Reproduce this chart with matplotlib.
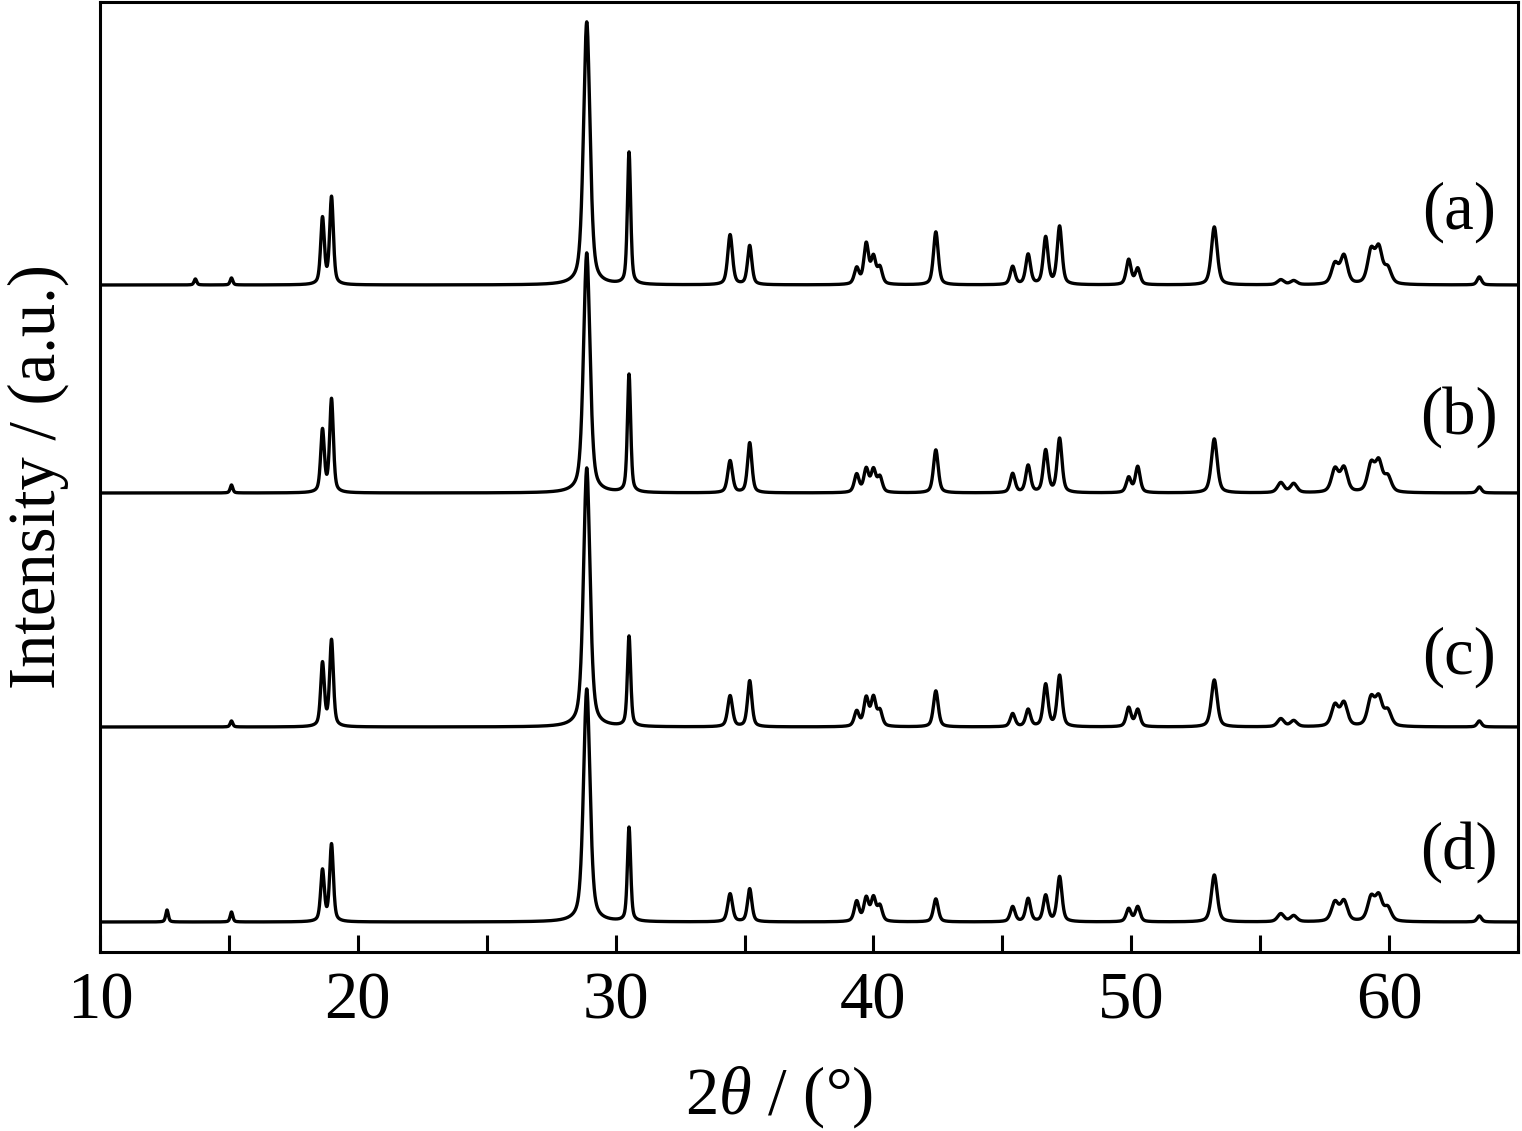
import numpy as np
import matplotlib
matplotlib.use("Agg")
import matplotlib.pyplot as plt
from matplotlib.ticker import MultipleLocator

plt.rcParams['font.family'] = ['Liberation Serif', 'DejaVu Serif']
plt.rcParams['mathtext.fontset'] = 'custom'
plt.rcParams['mathtext.rm'] = 'Liberation Serif'
plt.rcParams['mathtext.it'] = 'Liberation Serif:italic'

# posicoes dos picos (2theta, graus)
picos = [12.6, 13.7, 15.1, 18.63, 18.98, 28.88, 30.52, 34.44, 35.2, 39.35, 39.72,
         40.0, 40.25, 42.42, 45.4, 46.0, 46.68, 47.22, 49.9, 50.25, 53.22,
         55.8, 56.3, 57.9, 58.25, 59.3, 59.6, 59.95, 63.5]
larguras = [0.12, 0.12, 0.12, 0.17, 0.17, 0.30, 0.15, 0.22, 0.20, 0.22, 0.22,
            0.22, 0.22, 0.22, 0.22, 0.22, 0.22, 0.22, 0.22, 0.22, 0.27,
            0.30, 0.30, 0.32, 0.32, 0.32, 0.32, 0.32, 0.20]

# alturas (u.a.) de cada amostra
alt_a = [0, 6, 7, 66, 87, 263, 132, 50, 39, 16, 40, 26, 16, 53, 18, 30, 47, 58,
         25, 16, 58, 5, 4, 20, 28, 32, 34, 15, 8]
alt_b = [0, 0, 8, 62, 93, 240, 118, 32, 50, 18, 23, 22, 15, 43, 19, 27, 42, 54,
         15, 26, 54, 10, 9, 23, 24, 27, 29, 15, 6]
alt_c = [0, 0, 6, 63, 86, 259, 90, 31, 46, 15, 28, 28, 15, 36, 13, 17, 42, 51,
         19, 17, 47, 8, 6, 21, 23, 27, 27, 15, 6]
alt_d = [12, 0, 10, 51, 77, 233, 94, 28, 33, 20, 23, 23, 15, 23, 15, 23, 26, 45,
         13, 15, 47, 8, 6, 19, 20, 23, 24, 13, 6]

# linhas de base de cada curva
base = [667, 459, 225, 30]
rotulos = ["(a)", "(b)", "(c)", "(d)"]
pos_rotulo = [740, 535, 295, 100]


def perfil(x, alturas, eta=0.5):
    y = np.zeros_like(x)
    for c, w, h in zip(picos, larguras, alturas):
        if h == 0:
            continue
        g = np.exp(-4 * np.log(2) * ((x - c) / w) ** 2)
        l = 1 / (1 + 4 * ((x - c) / w) ** 2)
        y += h * (eta * l + (1 - eta) * g)
    return y


x = np.linspace(10, 65, 5501)

fig = plt.figure(figsize=(15.22, 11.31), dpi=100)
ax = fig.add_axes([100 / 1522, 179 / 1131, 1418 / 1522, 950 / 1131])

for alt, b in zip([alt_a, alt_b, alt_c, alt_d], base):
    ax.plot(x, perfil(x, alt) + b, color="black", lw=2.4)

for r, p in zip(rotulos, pos_rotulo):
    ax.text(62.7, p, r, fontsize=48, ha="center", va="center")

ax.set_xlim(10, 65)
ax.set_ylim(0, 950)
ax.xaxis.set_major_locator(MultipleLocator(10))
ax.xaxis.set_minor_locator(MultipleLocator(5))
ax.tick_params(axis="x", which="both", direction="in", length=12, width=2.2,
               labelsize=48, pad=14)
ax.set_yticks([])
for s in ax.spines.values():
    s.set_linewidth(2.2)

ax.set_xlabel(r"2$\it{\theta}$ / (°)", fontsize=48)
ax.xaxis.set_label_coords(0.479, -0.118)
ax.set_ylabel("Intensity / (a.u.)", fontsize=48, labelpad=22)

plt.savefig("out.png", dpi=100)
